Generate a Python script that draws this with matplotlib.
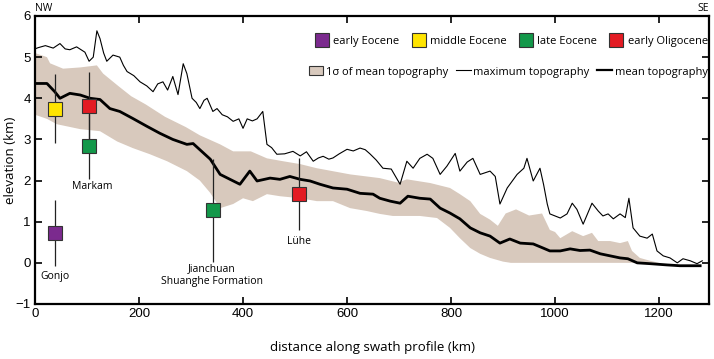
# Swath profile: maximum / mean topography with paleo-elevation estimates
import numpy as np
import matplotlib.pyplot as plt
from matplotlib.lines import Line2D
from matplotlib.patches import Patch

# ---- datos ----
max_km = [0, 6, 20, 35, 48, 58, 67, 80, 96, 104, 112, 119, 125, 132, 138, 150, 163, 170, 177, 190,
          202, 215, 227, 236, 246, 255, 265, 275, 285, 292, 302, 310, 317, 325, 331, 342, 350, 360,
          370, 381, 392, 400, 408, 418, 427, 438, 446, 455, 465, 480, 496, 510, 522, 535, 545, 554,
          565, 573, 585, 600, 612, 625, 635, 644, 656, 669, 685, 702, 715, 727, 740, 754, 765, 779,
          792, 808, 817, 831, 842, 856, 875, 885, 894, 908, 927, 940, 946, 958, 971, 978, 985, 990,
          1000, 1010, 1023, 1033, 1042, 1054, 1071, 1083, 1092, 1102, 1112, 1125, 1135, 1142, 1150,
          1163, 1177, 1187, 1196, 1208, 1221, 1235, 1246, 1260, 1273, 1283]
max_elev = [5.2, 5.23, 5.28, 5.22, 5.33, 5.2, 5.18, 5.25, 5.12, 4.9, 5.0, 5.64, 5.45, 5.1, 4.9, 5.05,
            5.0, 4.8, 4.65, 4.55, 4.4, 4.3, 4.16, 4.35, 4.4, 4.2, 4.53, 4.09, 4.84, 4.6, 4.0, 3.9,
            3.75, 3.95, 4.0, 3.68, 3.75, 3.6, 3.55, 3.44, 3.5, 3.27, 3.5, 3.45, 3.5, 3.68, 2.88, 2.8,
            2.64, 2.65, 2.71, 2.6, 2.7, 2.47, 2.55, 2.59, 2.52, 2.55, 2.65, 2.76, 2.72, 2.79, 2.75,
            2.65, 2.5, 2.3, 2.28, 1.91, 2.47, 2.3, 2.54, 2.64, 2.54, 2.15, 2.35, 2.66, 2.23, 2.45,
            2.54, 2.15, 2.23, 2.1, 1.43, 1.82, 2.15, 2.3, 2.54, 1.99, 2.3, 1.9, 1.43, 1.19, 1.14,
            1.09, 1.19, 1.45, 1.3, 0.94, 1.45, 1.26, 1.14, 1.19, 1.07, 1.19, 1.1, 1.57, 0.85, 0.65,
            0.6, 0.7, 0.29, 0.17, 0.12, 0.0, 0.1, 0.05, -0.02, 0.05]

mean_km = [0, 6, 23, 38, 48, 67, 87, 106, 125, 144, 163, 188, 215, 240, 265, 292, 304, 317, 337, 356,
           375, 394, 413, 427, 452, 471, 490, 510, 529, 548, 573, 600, 625, 650, 663, 683, 702, 717,
           740, 760, 779, 798, 817, 837, 856, 875, 894, 913, 933, 958, 977, 990, 1010, 1029, 1048,
           1067, 1087, 1106, 1125, 1140, 1158, 1183, 1215, 1240, 1279]
mean_elev = [4.36, 4.36, 4.36, 4.16, 4.0, 4.12, 4.08, 4.0, 3.97, 3.75, 3.68, 3.51, 3.32, 3.15, 3.0,
             2.88, 2.9, 2.75, 2.52, 2.15, 2.03, 1.91, 2.23, 1.99, 2.06, 2.03, 2.1, 2.03, 1.99, 1.91,
             1.82, 1.79, 1.69, 1.67, 1.57, 1.5, 1.45, 1.62, 1.57, 1.55, 1.33, 1.21, 1.07, 0.85, 0.73,
             0.65, 0.48, 0.58, 0.48, 0.46, 0.36, 0.29, 0.29, 0.34, 0.3, 0.31, 0.22, 0.17, 0.12, 0.1,
             0.0, -0.02, -0.05, -0.07, -0.07]

upper_km = [0, 23, 29, 54, 87, 119, 131, 160, 185, 213, 250, 290, 317, 356, 381, 415, 446, 477, 510,
            542, 606, 663, 698, 715, 760, 798, 817, 837, 856, 875, 890, 905, 925, 950, 975, 990, 1000,
            1010, 1033, 1054, 1071, 1083, 1106, 1125, 1140, 1148, 1163, 1183, 1200]
upper_elev = [5.1, 5.0, 4.85, 4.72, 4.75, 4.8, 4.6, 4.3, 4.05, 3.85, 3.55, 3.3, 3.1, 2.88, 2.71, 2.71,
              2.54, 2.47, 2.4, 2.3, 2.15, 2.06, 1.95, 2.03, 1.94, 1.82, 1.67, 1.5, 1.19, 1.05, 0.9,
              1.2, 1.3, 1.15, 1.2, 0.8, 0.75, 0.6, 0.77, 0.65, 0.73, 0.53, 0.53, 0.48, 0.53, 0.29,
              0.12, 0.05, 0.0]

lower_km = [0, 23, 42, 87, 125, 158, 188, 221, 254, 292, 317, 337, 356, 381, 400, 419, 446, 471, 510,
            542, 573, 606, 638, 663, 688, 715, 740, 773, 798, 817, 837, 856, 875, 900, 915, 1200]
lower_elev = [3.6, 3.5, 3.37, 3.25, 3.2, 2.95, 2.79, 2.64, 2.47, 2.23, 2.0, 1.7, 1.33, 1.43, 1.57, 1.5,
              1.67, 1.62, 1.57, 1.5, 1.5, 1.33, 1.26, 1.19, 1.14, 1.14, 1.14, 1.09, 0.85, 0.6, 0.36,
              0.22, 0.12, 0.03, 0.0, 0.0]

# paleo-elevaciones: (km, elevación, error, color)
sample_km = [38, 38, 104, 104, 343, 508]
sample_elev = [0.72, 3.75, 3.82, 2.83, 1.28, 1.67]
sample_err = [0.8, 0.83, 0.83, 0.8, 1.25, 0.88]
sample_color = ['#7b2a8e', '#ffe400', '#e31b23', '#13984a', '#13984a', '#e31b23']

site_names = ['Gonjo', 'Markam', 'Jianchuan\nShuanghe Formation', 'Lühe']
site_km = [38, 110, 340, 508]
site_y = [-0.34, 1.86, -0.3, 0.53]

periods = ['early Eocene', 'middle Eocene', 'late Eocene', 'early Oligocene']
period_colors = ['#7b2a8e', '#ffe400', '#13984a', '#e31b23']

band_color = '#d8c9bd'
label_font = 'Open Sans'
tick_font = 'Liberation Sans'

fig = plt.figure(figsize=(7.14, 3.59), dpi=100)
ax = fig.add_axes([35 / 714, 55 / 359, 674 / 714, 288 / 359])

# banda 1 sigma como polígono (superior + inferior invertida)
ax.fill(upper_km + lower_km[::-1], upper_elev + lower_elev[::-1], color=band_color, lw=0, zorder=1)
ax.plot(max_km, max_elev, color='black', lw=0.8, zorder=2)
ax.plot(mean_km, mean_elev, color='black', lw=2.0, zorder=3)

for x, y, e, c in zip(sample_km, sample_elev, sample_err, sample_color):
    ax.errorbar(x, y, yerr=e, fmt='none', ecolor='#222222', elinewidth=0.9, capsize=0, zorder=4)
    ax.plot(x, y, marker='s', ms=10.5, mfc=c, mec='#333333', mew=0.8, zorder=5)

for name, x, y in zip(site_names, site_km, site_y):
    ax.text(x, y, name, ha='center', va='center', fontsize=7.5, family=label_font,
            linespacing=1.15, zorder=6)

ax.set_xlim(0, 1296)
ax.set_ylim(-1, 6)
ax.set_xticks([0, 200, 400, 600, 800, 1000, 1200])
ax.set_yticks([-1, 0, 1, 2, 3, 4, 5, 6])
ax.tick_params(direction='in', length=5, width=1.2, top=True, right=True, labelsize=9.5, pad=3)
for lab in ax.get_xticklabels() + ax.get_yticklabels():
    lab.set_family(tick_font)
for s in ax.spines.values():
    s.set_linewidth(1.6)

ax.set_xlabel('distance along swath profile (km)', fontsize=9.5, family=label_font)
ax.set_ylabel('elevation (km)', fontsize=9.5, family=label_font)
ax.xaxis.set_label_coords(0.5, -0.13)
ax.yaxis.set_label_coords(-0.027, 0.5)

ax.text(0.0, 1.008, 'NW', transform=ax.transAxes, ha='left', va='bottom', fontsize=7.5, family=label_font)
ax.text(1.0, 1.008, 'SE', transform=ax.transAxes, ha='right', va='bottom', fontsize=7.5, family=label_font)

# leyendas
h1 = [Line2D([], [], ls='none', marker='s', ms=9.5, mfc=c, mec='#333333', mew=0.8) for c in period_colors]
leg1 = ax.legend(h1, periods, loc='center right', bbox_to_anchor=(0.998, 0.913), ncol=4, frameon=False,
                 handlelength=1.1, handletextpad=0.45, columnspacing=1.2, borderpad=0, borderaxespad=0,
                 prop={'family': label_font, 'size': 8})
ax.add_artist(leg1)

h2 = [Patch(facecolor=band_color, edgecolor='#333333', lw=0.8),
      Line2D([], [], color='black', lw=0.8),
      Line2D([], [], color='black', lw=1.6)]
ax.legend(h2, ['1σ of mean topography', 'maximum topography', 'mean topography'], loc='center right',
          bbox_to_anchor=(0.998, 0.806), ncol=3, frameon=False, handlelength=1.3, handleheight=0.9,
          handletextpad=0.25, columnspacing=0.7, borderpad=0, borderaxespad=0,
          prop={'family': label_font, 'size': 8})

fig.savefig('out.png', dpi=100)
